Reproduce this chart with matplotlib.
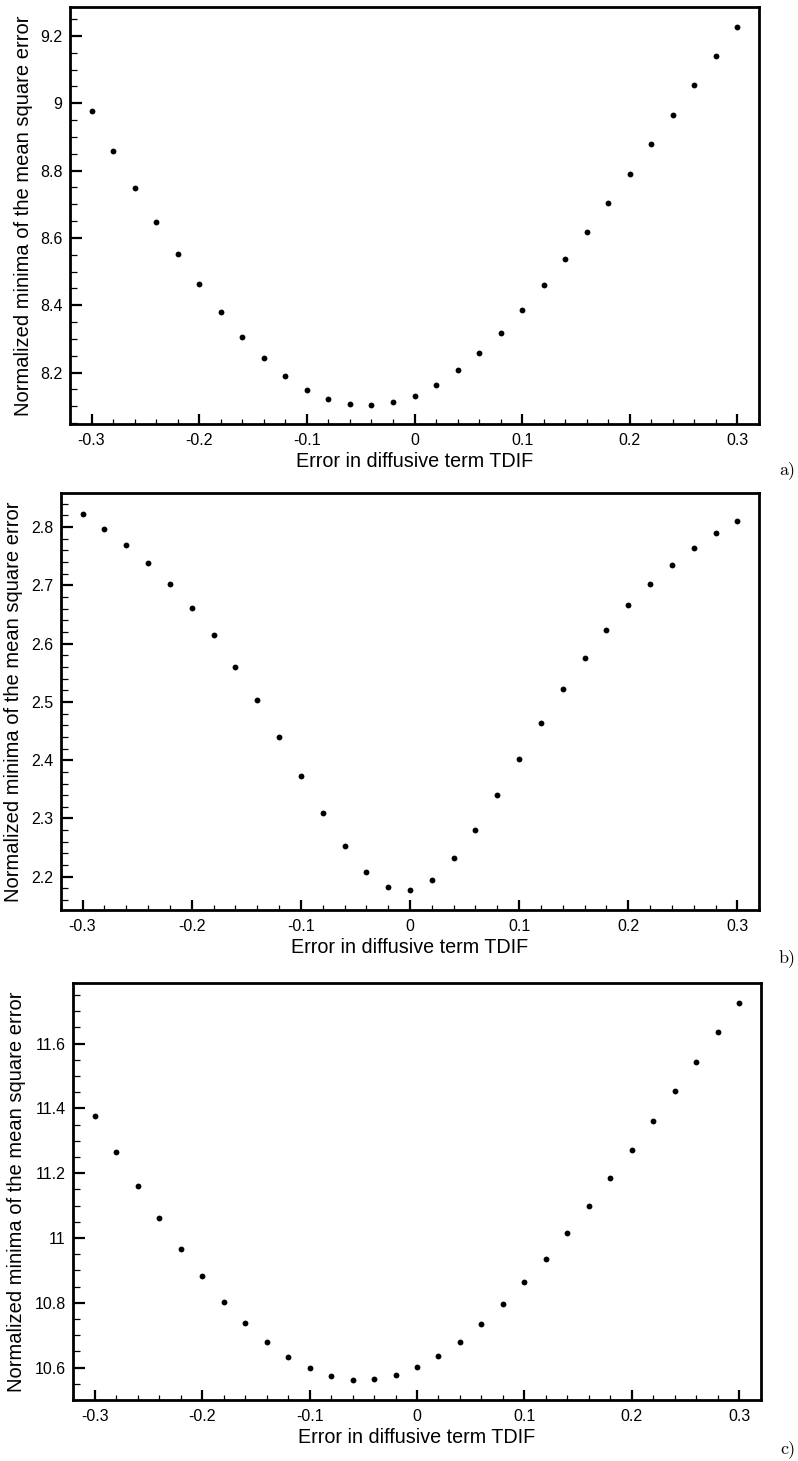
import matplotlib
matplotlib.use("Agg")
import matplotlib.pyplot as plt
from matplotlib.ticker import MultipleLocator, FormatStrFormatter

plt.rcParams['font.family'] = ['Liberation Sans', 'DejaVu Sans']
plt.rcParams['axes.unicode_minus'] = False

tdif = [-0.30, -0.28, -0.26, -0.24, -0.22, -0.20, -0.18, -0.16, -0.14, -0.12,
        -0.10, -0.08, -0.06, -0.04, -0.02, 0.00, 0.02, 0.04, 0.06, 0.08,
        0.10, 0.12, 0.14, 0.16, 0.18, 0.20, 0.22, 0.24, 0.26, 0.28, 0.30]

mse_a = [8.978, 8.857, 8.749, 8.648, 8.552, 8.463, 8.379, 8.307, 8.242, 8.190,
         8.149, 8.121, 8.106, 8.103, 8.112, 8.131, 8.164, 8.207, 8.258, 8.318,
         8.386, 8.459, 8.536, 8.618, 8.703, 8.790, 8.878, 8.965, 9.053, 9.140, 9.226]

mse_b = [2.823, 2.797, 2.770, 2.738, 2.702, 2.661, 2.614, 2.560, 2.503, 2.439,
         2.373, 2.309, 2.252, 2.208, 2.182, 2.177, 2.195, 2.232, 2.281, 2.340,
         2.402, 2.464, 2.522, 2.575, 2.623, 2.666, 2.702, 2.735, 2.764, 2.789, 2.811]

mse_c = [11.377, 11.265, 11.161, 11.061, 10.967, 10.883, 10.804, 10.738, 10.678, 10.633,
         10.599, 10.574, 10.563, 10.565, 10.577, 10.602, 10.636, 10.680, 10.734, 10.796,
         10.864, 10.936, 11.016, 11.098, 11.185, 11.273, 11.362, 11.455, 11.543, 11.636, 11.725]

panel_labels = ['a)', 'b)', 'c)']
xlabel = 'Error in diffusive term TDIF'
ylabel = 'Normalized minima of the mean square error'

W, H = 798, 1461
fig = plt.figure(figsize=(W / 100, H / 100), dpi=100)

# (left, top, right, bottom) in pixels
boxes = [(70, 7, 759, 423.7), (60.7, 492.7, 759.3, 910), (73.3, 982.7, 760.7, 1400)]
ylims = [(8.048, 9.286), (2.143, 2.859), (10.50, 11.788)]
ymajor = [0.2, 0.1, 0.2]
yminor = [0.05, 0.02, 0.05]
ylabel_x = [33, 23, 26]
label_y = [470, 958, 1449]
datasets = [mse_a, mse_b, mse_c]

for i in range(3):
    l, t, r, b = boxes[i]
    ax = fig.add_axes([l / W, 1 - b / H, (r - l) / W, (b - t) / H])
    ax.plot(tdif, datasets[i], 'o', color='black', markersize=4.2, markeredgewidth=0)
    ax.set_xlim(-0.32, 0.32)
    ax.set_ylim(*ylims[i])
    ax.xaxis.set_major_locator(MultipleLocator(0.1))
    ax.xaxis.set_minor_locator(MultipleLocator(0.02))
    ax.yaxis.set_major_locator(MultipleLocator(ymajor[i]))
    ax.yaxis.set_minor_locator(MultipleLocator(yminor[i]))
    ax.xaxis.set_major_formatter(FormatStrFormatter('%g'))
    ax.yaxis.set_major_formatter(FormatStrFormatter('%g'))
    ax.tick_params(which='both', direction='in', top=False, right=False)
    ax.tick_params(axis='x', which='major', length=7.5, width=1.6, labelsize=11.5, pad=6.5)
    ax.tick_params(axis='x', which='minor', length=3.8, width=0.9)
    ax.tick_params(axis='y', which='major', length=8.5, width=1.6, labelsize=11.5, pad=5.5)
    ax.tick_params(axis='y', which='minor', length=4.8, width=0.9)
    for s in ax.spines.values():
        s.set_linewidth(2.0)
    ax.set_xlabel(xlabel, fontsize=14.2)
    ax.set_ylabel(ylabel, fontsize=14.5)
    ax.xaxis.set_label_coords(0.5, -28 / (b - t))
    ax.yaxis.set_label_coords((ylabel_x[i] - l) / (r - l), 0.5)
    fig.text(0.997, 1 - label_y[i] / H, panel_labels[i], ha='right', va='center',
             fontsize=13, family=['cmr10', 'DejaVu Serif'])

fig.savefig('out.png', dpi=100)
